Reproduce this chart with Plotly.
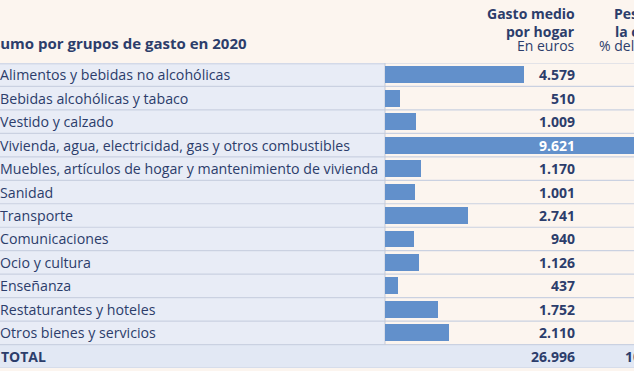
import plotly.graph_objects as go

categories = [
    "Alimentos y bebidas no alcohólicas",
    "Bebidas alcohólicas y tabaco",
    "Vestido y calzado",
    "Vivienda, agua, electricidad, gas y otros combustibles",
    "Muebles, artículos de hogar y mantenimiento de vivienda",
    "Sanidad",
    "Transporte",
    "Comunicaciones",
    "Ocio y cultura",
    "Enseñanza",
    "Restaturantes y hoteles",
    "Otros bienes y servicios",
]
gasto = [4579, 510, 1009, 9621, 1170, 1001, 2741, 940, 1126, 437, 1752, 2110]
total_label = "TOTAL"
total_gasto = 26996
total_peso = "100"
title = "Consumo por grupos de gasto en 2020"
head1 = ["Gasto medio", "por hogar", "En euros"]
head2 = ["Peso en", "la cesta", "% del total"]

W, H = 634, 371
NAVY = "#2c3d6b"
BAR = "#6290cb"
CREAM = "#fcf5ef"
LEFTBG = "#e8ecf6"
TOTBG = "#e2e8f4"
LINE = "#cad1e1"
FONT = "Open Sans"

rows = categories + [total_label]
n = len(rows)
xsplit = 385 / W
xval = 577 / W

fig = go.Figure()
fig.add_trace(go.Bar(
    y=categories, x=gasto, orientation="h", width=0.72,
    marker=dict(color=BAR, line=dict(width=0)), hoverinfo="skip",
))

shapes = []
shapes.append(dict(type="rect", xref="paper", yref="y", x0=0, x1=xsplit,
                   y0=-0.5, y1=n - 1.5, fillcolor=LEFTBG, line=dict(width=0), layer="below"))
shapes.append(dict(type="rect", xref="paper", yref="y", x0=0, x1=1,
                   y0=n - 1.5, y1=n - 0.5, fillcolor=TOTBG, line=dict(width=0), layer="below"))
for i in range(n + 1):
    yb = i - 0.5
    shapes.append(dict(type="line", xref="paper", yref="y", x0=0, x1=1, y0=yb, y1=yb,
                       line=dict(color=LINE, width=1.2), layer="below"))
shapes.append(dict(type="line", xref="paper", yref="y", x0=0, x1=xsplit, y0=-0.5, y1=-0.5,
                   line=dict(color="#d3d9e8", width=3), layer="below"))
shapes.append(dict(type="line", xref="paper", yref="y", x0=xsplit, x1=xsplit, y0=-0.5, y1=n - 1.5,
                   line=dict(color="#c4cad8", width=1), layer="below"))

ann = []
for i, (c, v) in enumerate(zip(categories, gasto)):
    ann.append(dict(xref="paper", yref="y", x=0, y=c, xanchor="left", xshift=-2,
                    text=c, showarrow=False, font=dict(family=FONT, size=14.2, color=NAVY)))
    txt = f"{v:,}".replace(",", ".")
    col = "white" if v == max(gasto) else NAVY
    ann.append(dict(xref="paper", yref="y", x=xval, y=c, xanchor="right",
                    text=f"<b>{txt}</b>", showarrow=False, font=dict(family=FONT, size=14, color=col)))
ann.append(dict(xref="paper", yref="y", x=0, y=total_label, xanchor="left", xshift=-1,
                text=f"<b>{total_label}</b>", showarrow=False, font=dict(family=FONT, size=14, color=NAVY)))
ann.append(dict(xref="paper", yref="y", x=xval, y=total_label, xanchor="right",
                text="<b>" + f"{total_gasto:,}".replace(",", ".") + "</b>", showarrow=False,
                font=dict(family=FONT, size=14, color=NAVY)))
ann.append(dict(xref="paper", yref="y", x=623 / W, y=total_label, xanchor="left",
                text=f"<b>{total_peso}</b>", showarrow=False, font=dict(family=FONT, size=14, color=NAVY)))

# title (left part cropped)
ann.append(dict(xref="paper", yref="paper", x=0, y=1 - 43 / H, xanchor="left", yanchor="middle",
                xshift=-38, text=f"<b>{title}</b>", showarrow=False,
                font=dict(family=FONT, size=15, color=NAVY)))
ys = [14, 31, 46]
for k, (t, yy) in enumerate(zip(head1, ys)):
    tt = f"<b>{t}</b>" if k < 2 else t
    ann.append(dict(xref="paper", yref="paper", x=xval, y=1 - yy / H, xanchor="right", yanchor="middle",
                    text=tt, showarrow=False, font=dict(family=FONT, size=14, color=NAVY)))
xs2 = [612, 613, 597]
for k, (t, yy, xx) in enumerate(zip(head2, ys, xs2)):
    tt = f"<b>{t}</b>" if k < 2 else t
    ann.append(dict(xref="paper", yref="paper", x=xx / W, y=1 - yy / H, xanchor="left", yanchor="middle",
                    text=tt, showarrow=False, font=dict(family=FONT, size=14, color=NAVY)))

fig.update_layout(
    width=W, height=H, margin=dict(l=0, r=0, t=0, b=0),
    paper_bgcolor=CREAM, plot_bgcolor="rgba(0,0,0,0)",
    showlegend=False, shapes=shapes, annotations=ann,
    xaxis=dict(domain=[xsplit, 1], range=[0, 8200], visible=False, fixedrange=True),
    yaxis=dict(domain=[3 / H, 1 - 63 / H], type="category", categoryorder="array",
               categoryarray=rows, range=[n - 0.5, -0.5], visible=False, fixedrange=True),
    bargap=0,
)
fig.write_html("out.html", config=dict(displayModeBar=False),
               post_script="document.body.style.margin='0';document.body.style.overflow='hidden';")
